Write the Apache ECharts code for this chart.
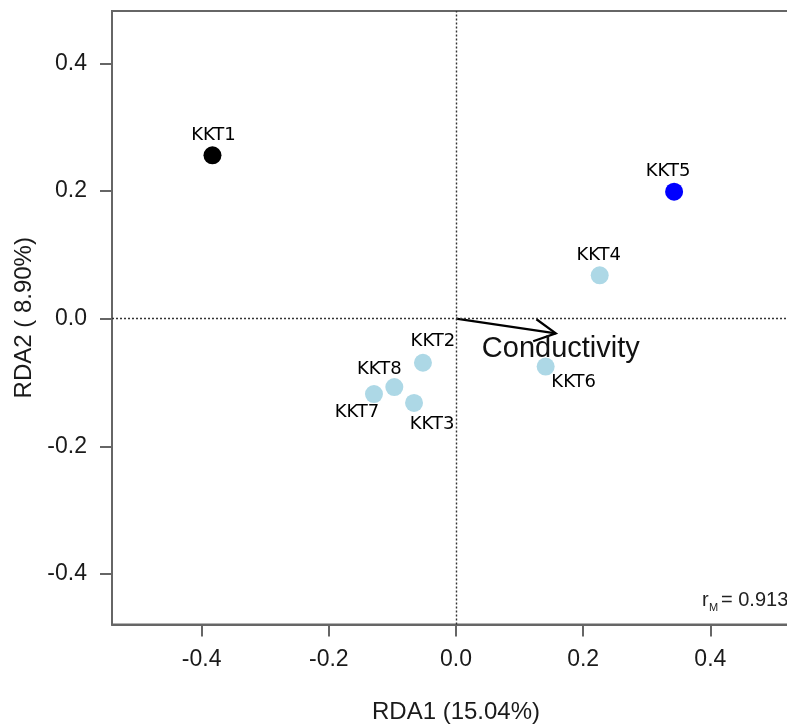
<!DOCTYPE html>
<html>
<head>
<meta charset="utf-8">
<script src="https://cdn.jsdelivr.net/npm/echarts@6/dist/echarts.min.js"></script>
<style>
  html, body { margin: 0; padding: 0; background: #fff; }
  #chart { width: 787px; height: 725px; }
</style>
</head>
<body>
<div id="chart"></div>
<script>
// ---- data ----
const sites = ['KKT1', 'KKT2', 'KKT3', 'KKT4', 'KKT5', 'KKT6', 'KKT7', 'KKT8'];
const rda1 = [-0.383, -0.052, -0.066, 0.226, 0.343, 0.141, -0.129, -0.097];
const rda2 = [0.256, -0.069, -0.132, 0.068, 0.199, -0.075, -0.118, -0.107];
const envNames = ['Conductivity'];
const envRda1 = [0.157];
const envRda2 = [-0.023];
const xTicks = [-0.4, -0.2, 0.0, 0.2, 0.4];
const yTicks = [-0.4, -0.2, 0.0, 0.2, 0.4];
const xTitle = 'RDA1 (15.04%)';
const yTitle = 'RDA2 ( 8.90%)';
const mantelR = '0.913';

// ---- styles (kept apart from data) ----
const pointColor = { KKT1: '#000000', KKT5: '#0000FF' };
const defaultColor = '#ADD8E6';
const labelOffset = {
  KKT1: [1, -20], KKT2: [10, -21], KKT3: [18, 21], KKT4: [-1, -20],
  KKT5: [-6, -20], KKT6: [28, 16], KKT7: [-17, 18], KKT8: [-15, -18]
};

const chart = echarts.init(document.getElementById('chart'), null, { renderer: 'canvas' });

const scatterData = sites.map((s, i) => ({
  name: s,
  value: [rda1[i], rda2[i]],
  itemStyle: { color: pointColor[s] || defaultColor, opacity: 1 },
  label: { offset: labelOffset[s] }
}));

const envData = envNames.map((n, i) => [envRda1[i], envRda2[i]]);

const axisColor = '#666';
const textColor = '#1a1a1a';

const option = {
  animation: false,
  backgroundColor: '#fff',
  grid: {
    left: 112, top: 11, width: 688, height: 613.5,
    show: true, borderColor: axisColor, borderWidth: 2,
    outerBoundsMode: 'none', containLabel: false
  },
  xAxis: {
    type: 'value', min: -0.541, max: 0.541,
    splitLine: { show: false },
    axisLine: { show: true, onZero: false, lineStyle: { color: axisColor, width: 2 } },
    axisTick: { show: true, length: 12, customValues: xTicks, lineStyle: { color: axisColor, width: 2 } },
    axisLabel: {
      customValues: xTicks, formatter: v => v.toFixed(1),
      fontSize: 23, color: textColor, margin: 24, fontFamily: 'Liberation Sans'
    },
    name: xTitle, nameLocation: 'middle', nameGap: 76,
    nameTextStyle: { fontSize: 24, color: textColor, fontFamily: 'Liberation Sans' }
  },
  yAxis: {
    type: 'value', min: -0.479, max: 0.482,
    splitLine: { show: false },
    axisLine: { show: true, onZero: false, lineStyle: { color: axisColor, width: 2 } },
    axisTick: { show: true, length: 12, customValues: yTicks, lineStyle: { color: axisColor, width: 2 } },
    axisLabel: {
      customValues: yTicks, formatter: v => v.toFixed(1),
      fontSize: 23, color: textColor, margin: 25, fontFamily: 'Liberation Sans'
    },
    name: yTitle, nameLocation: 'middle', nameGap: 72, nameRotate: 90,
    nameTextStyle: { fontSize: 24, color: textColor, fontFamily: 'Liberation Sans' }
  },
  series: [
    {
      type: 'scatter',
      symbol: 'circle',
      symbolSize: 18,
      z: 3,
      itemStyle: { opacity: 1 },
      data: scatterData,
      label: {
        show: true, position: 'inside', formatter: '{b}',
        fontSize: 18, fontFamily: 'DejaVu Sans', color: '#000',
        align: 'center', verticalAlign: 'middle', opacity: 1
      },
      markLine: {
        silent: true, symbol: 'none', animation: false,
        label: { show: false },
        lineStyle: { type: [2, 2], color: '#333', width: 1.4, opacity: 1 },
        data: [{ xAxis: 0 }, { yAxis: 0 }]
      }
    },
    {
      type: 'custom',
      coordinateSystem: 'cartesian2d',
      z: 4,
      data: envData,
      renderItem: function (params, api) {
        const start = api.coord([0, 0]);
        const end = api.coord([api.value(0), api.value(1)]);
        const ang = Math.atan2(end[1] - start[1], end[0] - start[0]);
        const L = 24, a = Math.PI / 6.5;
        const w1 = [end[0] - L * Math.cos(ang - a), end[1] - L * Math.sin(ang - a)];
        const w2 = [end[0] - L * Math.cos(ang + a), end[1] - L * Math.sin(ang + a)];
        return {
          type: 'group',
          children: [
            { type: 'polyline', shape: { points: [start, end] }, style: { stroke: '#000', lineWidth: 2.2, fill: null } },
            { type: 'polyline', shape: { points: [w1, end, w2] }, style: { stroke: '#000', lineWidth: 2.2, fill: null } },
            {
              type: 'text', x: end[0] + 5, y: end[1] + 16,
              style: {
                text: envNames[params.dataIndex],
                font: '29px "Liberation Sans"', fill: '#111',
                align: 'center', verticalAlign: 'middle'
              }
            }
          ]
        };
      }
    }
  ],
  graphic: [
    { type: 'text', left: 702, top: 590, style: { text: 'r', font: '20px "Liberation Sans"', fill: '#222' } },
    { type: 'text', left: 709, top: 602, style: { text: 'M', font: '11px "Liberation Sans"', fill: '#222' } },
    { type: 'text', left: 721, top: 590, style: { text: '= ' + mantelR, font: '20px "Liberation Sans"', fill: '#222' } }
  ]
};

chart.setOption(option);
</script>
</body>
</html>
